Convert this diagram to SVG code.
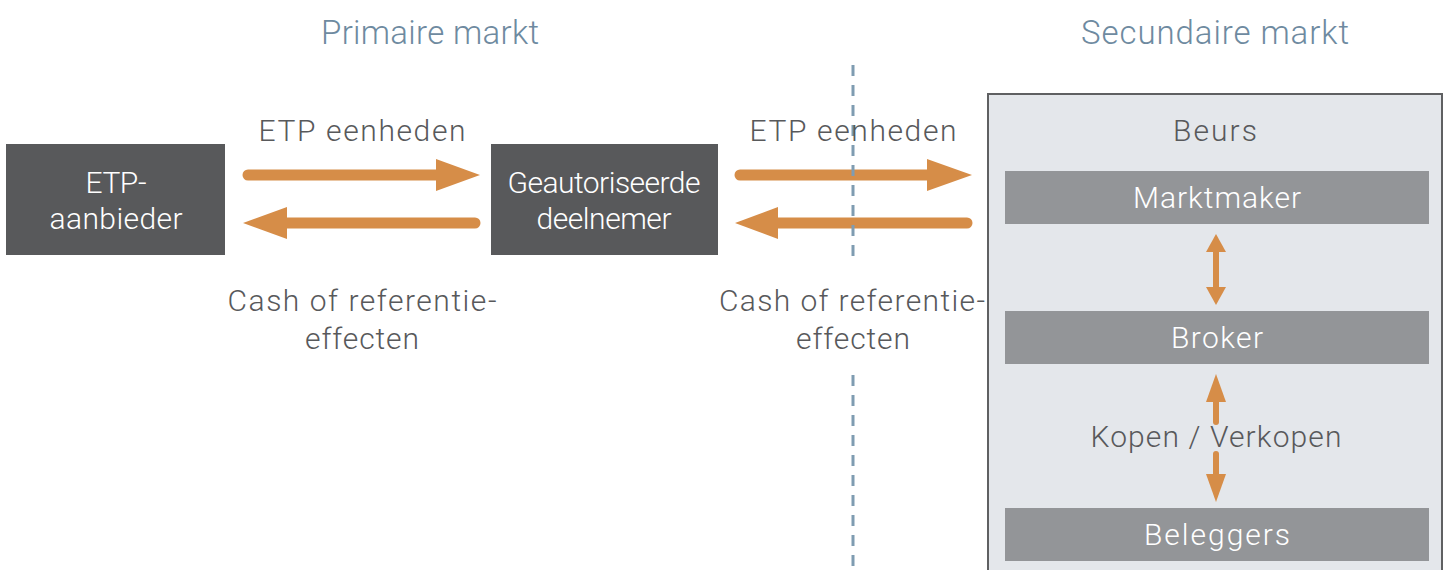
<svg xmlns="http://www.w3.org/2000/svg" width="1449" height="570" viewBox="0 0 1449 570">
<style>
.title{font-family:Roboto,"Liberation Sans",sans-serif;font-weight:300;font-size:33px;fill:#6e8aa0;text-anchor:middle}
.lbl{font-family:Roboto,"Liberation Sans",sans-serif;font-weight:300;font-size:30px;fill:#58595b;text-anchor:middle}
.wt{font-family:Roboto,"Liberation Sans",sans-serif;font-weight:300;font-size:30px;fill:#ffffff;text-anchor:middle}
.dark{fill:#58595b}
.bar{fill:#939598}
.shaft{stroke:#d68d48;stroke-width:11;stroke-linecap:round;fill:none}
.head{fill:#d68d48}
</style>
<rect width="1449" height="570" fill="#ffffff"/>
<text class="title" x="430" y="44" textLength="218" lengthAdjust="spacing">Primaire markt</text>
<text class="title" x="1215" y="44" textLength="268" lengthAdjust="spacing">Secundaire markt</text>

<g id="beurs">
<rect x="988" y="94" width="454" height="490" fill="#e4e7eb" stroke="#5f6062" stroke-width="2"/>
<text class="lbl" x="1215" y="141" textLength="84" lengthAdjust="spacing">Beurs</text>
</g>

<g id="etp-aanbieder">
<rect class="dark" x="6" y="144" width="219" height="111"/>
<text class="wt" x="116" y="193" textLength="61" lengthAdjust="spacing">ETP-</text>
<text class="wt" x="116" y="229" textLength="133" lengthAdjust="spacing">aanbieder</text>
</g>
<g id="geautoriseerde-deelnemer">
<rect class="dark" x="491" y="144" width="227" height="111"/>
<text class="wt" x="604" y="193" textLength="193" lengthAdjust="spacing">Geautoriseerde</text>
<text class="wt" x="604" y="229" textLength="135" lengthAdjust="spacing">deelnemer</text>
</g>
<g id="marktmaker">
<rect class="bar" x="1005" y="171" width="424" height="53"/>
<text class="wt" x="1217" y="208" textLength="168" lengthAdjust="spacing">Marktmaker</text>
</g>
<g id="broker">
<rect class="bar" x="1005" y="311" width="424" height="53"/>
<text class="wt" x="1217" y="348" textLength="92" lengthAdjust="spacing">Broker</text>
</g>
<g id="beleggers">
<rect class="bar" x="1005" y="508" width="424" height="53"/>
<text class="wt" x="1217" y="545" textLength="146" lengthAdjust="spacing">Beleggers</text>
</g>

<g id="connectors">
<line class="shaft" x1="248" y1="175" x2="440" y2="175"/>
<polygon class="head" points="436,159 480,175 436,191"/>
<line class="shaft" x1="475" y1="223" x2="285" y2="223"/>
<polygon class="head" points="287,207 243,223 287,239"/>
<line class="shaft" x1="740" y1="175" x2="930" y2="175"/>
<polygon class="head" points="927,159 972,175 927,191"/>
<line class="shaft" x1="967" y1="223" x2="775" y2="223"/>
<polygon class="head" points="778,207 735,223 778,239"/>

<line x1="1216" y1="250" x2="1216" y2="290" stroke="#d68d48" stroke-width="6"/>
<polygon class="head" points="1216,234 1226,252 1206,252"/>
<polygon class="head" points="1216,305 1226,287 1206,287"/>

<line x1="1216" y1="395" x2="1216" y2="422" stroke="#d68d48" stroke-width="6" stroke-linecap="round"/>
<polygon class="head" points="1216,374 1226,402 1206,402"/>
<line x1="1216" y1="454" x2="1216" y2="480" stroke="#d68d48" stroke-width="6" stroke-linecap="round"/>
<polygon class="head" points="1216,502 1226,474 1206,474"/>

<line x1="853" y1="65" x2="853" y2="262" stroke="#7f9cb1" stroke-width="3" stroke-dasharray="11 9"/>
<line x1="853" y1="375" x2="853" y2="570" stroke="#7f9cb1" stroke-width="3" stroke-dasharray="11 9"/>
</g>

<text class="lbl" x="362" y="141" textLength="207" lengthAdjust="spacing">ETP eenheden</text>
<text class="lbl" x="362" y="311" textLength="269" lengthAdjust="spacing">Cash of referentie-</text>
<text class="lbl" x="362" y="349" textLength="114" lengthAdjust="spacing">effecten</text>
<text class="lbl" x="853" y="141" textLength="207" lengthAdjust="spacing">ETP eenheden</text>
<text class="lbl" x="852" y="311" textLength="266" lengthAdjust="spacing">Cash of referentie-</text>
<text class="lbl" x="853" y="349" textLength="114" lengthAdjust="spacing">effecten</text>
<text class="lbl" x="1216" y="447" textLength="251" lengthAdjust="spacing">Kopen / Verkopen</text>
</svg>
